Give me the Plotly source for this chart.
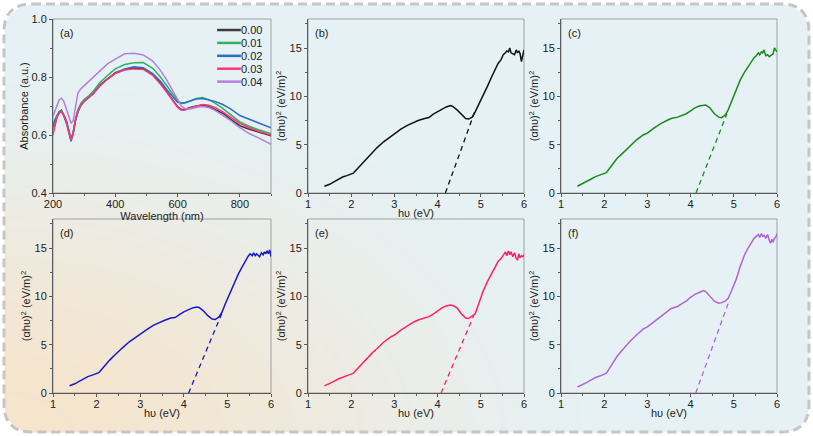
import base64, struct, zlib
import numpy as np
import plotly.graph_objects as go
from plotly.subplots import make_subplots

# ---------------- data ----------------
wavelength = [200, 205, 212, 220, 227, 235, 243, 250, 258, 265, 272, 280, 290, 300, 315, 330, 350, 375, 400, 430,
              460, 490, 520, 545, 565, 585, 600, 612, 625, 640, 660, 680, 700, 720, 745, 770, 800, 830, 860, 900]
abs_000 = [0.64, 0.63, 0.66, 0.68, 0.686, 0.67, 0.65, 0.62, 0.583, 0.61, 0.65, 0.68, 0.705, 0.718, 0.73, 0.745, 0.772, 0.795, 0.815, 0.826,
           0.831, 0.83, 0.808, 0.78, 0.752, 0.72, 0.698, 0.688, 0.689, 0.695, 0.70, 0.703, 0.698, 0.689, 0.675, 0.655, 0.632, 0.62, 0.61, 0.597]
abs_001 = [0.62, 0.64, 0.665, 0.68, 0.684, 0.668, 0.645, 0.615, 0.58, 0.61, 0.655, 0.688, 0.71, 0.722, 0.735, 0.752, 0.78, 0.805, 0.828, 0.843,
           0.849, 0.85, 0.83, 0.80, 0.77, 0.74, 0.718, 0.709, 0.71, 0.717, 0.726, 0.729, 0.722, 0.71, 0.692, 0.67, 0.645, 0.63, 0.618, 0.605]
abs_002 = [0.63, 0.65, 0.665, 0.678, 0.68, 0.665, 0.64, 0.61, 0.578, 0.605, 0.648, 0.68, 0.703, 0.715, 0.728, 0.742, 0.768, 0.793, 0.813, 0.828,
           0.835, 0.832, 0.812, 0.785, 0.757, 0.73, 0.713, 0.71, 0.712, 0.717, 0.724, 0.726, 0.722, 0.716, 0.705, 0.69, 0.667, 0.655, 0.642, 0.625]
abs_003 = [0.60, 0.625, 0.66, 0.675, 0.682, 0.668, 0.645, 0.615, 0.583, 0.61, 0.652, 0.683, 0.705, 0.717, 0.73, 0.745, 0.77, 0.793, 0.812, 0.824,
           0.828, 0.826, 0.806, 0.776, 0.748, 0.715, 0.695, 0.685, 0.686, 0.693, 0.70, 0.705, 0.703, 0.695, 0.68, 0.662, 0.64, 0.625, 0.613, 0.60]
abs_004 = [0.665, 0.68, 0.70, 0.722, 0.727, 0.715, 0.69, 0.665, 0.64, 0.65, 0.70, 0.745, 0.76, 0.77, 0.785, 0.80, 0.82, 0.845, 0.862, 0.88,
           0.882, 0.876, 0.855, 0.823, 0.79, 0.75, 0.72, 0.70, 0.69, 0.69, 0.695, 0.698, 0.695, 0.685, 0.668, 0.65, 0.625, 0.605, 0.59, 0.568]
doping_labels = ["0.00", "0.01", "0.02", "0.03", "0.04"]
absorbance = [abs_000, abs_001, abs_002, abs_003, abs_004]

hv = [1.38, 1.5, 1.6, 1.7, 1.8, 1.9, 2.0, 2.05, 2.1, 2.2, 2.3, 2.4, 2.5, 2.6, 2.75, 2.9, 3.0, 3.15, 3.3, 3.45,
      3.55, 3.7, 3.8, 3.9, 4.0, 4.1, 4.2, 4.3, 4.35, 4.45, 4.55, 4.65, 4.72, 4.8, 4.87, 4.95, 5.05, 5.15, 5.25, 5.32,
      5.4, 5.47, 5.52, 5.57, 5.6, 5.64, 5.67, 5.7, 5.74, 5.78, 5.82, 5.85, 5.88, 5.91, 5.94, 5.97, 6.0]
tauc_b = [0.7, 0.9, 1.15, 1.4, 1.65, 1.8, 1.95, 2.05, 2.3, 2.8, 3.3, 3.8, 4.3, 4.7, 5.3, 5.8, 6.1, 6.6, 7.0, 7.35,
          7.5, 7.7, 7.8, 8.15, 8.4, 8.7, 8.9, 9.05, 8.95, 8.6, 8.1, 7.7, 7.65, 7.85, 8.4, 9.1, 10.0, 11.0, 12.0, 12.7,
          13.4, 13.8, 14.3, 14.5, 14.7, 14.6, 15.0, 14.5, 14.4, 14.3, 14.8, 14.5, 14.7, 14.4, 13.6, 14.1, 14.8]
tauc_c = [0.7, 0.95, 1.2, 1.45, 1.7, 1.85, 2.0, 2.1, 2.4, 3.0, 3.6, 4.0, 4.45, 4.9, 5.5, 6.0, 6.2, 6.7, 7.15, 7.5,
          7.7, 7.85, 8.0, 8.2, 8.5, 8.8, 9.0, 9.1, 9.1, 8.8, 8.2, 7.85, 7.8, 8.05, 8.6, 9.5, 10.7, 11.7, 12.5, 13.0,
          13.6, 14.0, 14.2, 14.5, 14.3, 14.6, 14.5, 14.8, 14.2, 14.3, 14.1, 14.2, 14.3, 14.4, 15.0, 14.8, 14.6]
tauc_d = [0.75, 0.95, 1.2, 1.45, 1.7, 1.85, 2.0, 2.1, 2.35, 2.9, 3.4, 3.85, 4.3, 4.7, 5.3, 5.8, 6.05, 6.55, 7.0, 7.35,
          7.5, 7.75, 7.8, 8.1, 8.4, 8.6, 8.8, 8.9, 8.85, 8.5, 8.0, 7.65, 7.6, 7.85, 8.3, 9.2, 10.3, 11.3, 12.3, 12.9,
          13.6, 14.1, 14.4, 14.2, 14.5, 14.2, 14.4, 14.3, 14.1, 14.5, 14.3, 14.6, 14.4, 14.7, 14.4, 14.8, 14.1]
tauc_e = [0.73, 0.95, 1.2, 1.45, 1.65, 1.8, 1.95, 2.05, 2.3, 2.8, 3.3, 3.7, 4.2, 4.6, 5.25, 5.75, 6.0, 6.5, 6.95, 7.35,
          7.55, 7.75, 7.9, 8.15, 8.5, 8.8, 9.0, 9.1, 9.05, 8.8, 8.2, 7.75, 7.7, 7.95, 8.2, 9.2, 10.5, 11.5, 12.4, 13.0,
          13.6, 13.9, 14.3, 14.6, 14.2, 14.7, 14.3, 14.6, 14.1, 14.5, 13.9, 13.8, 14.4, 14.0, 14.2, 14.1, 14.3]
tauc_f = [0.62, 0.85, 1.1, 1.35, 1.6, 1.75, 1.9, 2.05, 2.4, 3.1, 3.8, 4.35, 4.9, 5.35, 6.0, 6.6, 6.85, 7.4, 7.9, 8.4,
          8.75, 8.95, 9.25, 9.5, 9.9, 10.2, 10.4, 10.6, 10.5, 10.0, 9.5, 9.3, 9.35, 9.5, 9.8, 10.6, 11.7, 13.1, 14.3, 14.9,
          15.5, 16.0, 16.2, 16.4, 16.1, 16.5, 16.2, 16.3, 16.0, 16.4, 15.8, 15.5, 15.9, 15.6, 16.0, 16.1, 16.5]
tauc_series = [tauc_b, tauc_c, tauc_d, tauc_e, tauc_f]
# linear extrapolation (band gap fits): [x_start, x_end], [y_start, y_end]
fit_x = [[4.18, 4.86], [4.125, 4.84], [4.11, 4.87], [4.08, 4.84], [4.12, 4.88]]
fit_y = [[0, 8.4], [0, 8.2], [0, 8.2], [0, 8.05], [0, 9.4]]
panel_letters = ["(a)", "(b)", "(c)", "(d)", "(e)", "(f)"]

for s in absorbance:
    assert len(s) == len(wavelength)
for s in tauc_series:
    assert len(s) == len(hv)

# ---------------- styles ----------------
FONT = "Liberation Sans, Arial, sans-serif"
FS = 11
abs_colors = ["#3c3c3c", "#34b060", "#2a6fc0", "#ff3578", "#b57ee0"]
tauc_colors = ["#111111", "#178c17", "#1818c8", "#ff1f6e", "#b064d8"]
W, H = 813, 436

def px_x(x):
    return x / W

def px_y(y):
    return 1 - y / H

col_dom = [[px_x(53), px_x(271)], [px_x(308), px_x(524)], [px_x(561), px_x(777)]]
row_dom = [[px_y(193), px_y(19)], [px_y(393), px_y(219)]]

# ---------------- background gradient image ----------------
yy, xx = np.mgrid[0:H, 0:W].astype(float)
t = np.sqrt((xx / 660.0) ** 2 + ((H - yy) / 400.0) ** 2)
t = np.clip(t, 0, 1)
t = t * t * (3 - 2 * t)
peach = np.array([246, 228, 204], float)
blue = np.array([229, 241, 244], float)
rgb = peach[None, None, :] * (1 - t)[..., None] + blue[None, None, :] * t[..., None]
bx0, by0, bx1, by1, br = 4, 4, 809, 432, 28
dx = np.maximum(np.maximum(bx0 + br - xx, 0), xx - (bx1 - br))
dy = np.maximum(np.maximum(by0 + br - yy, 0), yy - (by1 - br))
d = np.sqrt(np.maximum(dx, 0) ** 2 + np.maximum(dy, 0) ** 2) - br
alpha = np.clip(0.5 - d, 0, 1) * 255
img = np.dstack([rgb, alpha]).round().astype(np.uint8)

def png_bytes(arr):
    h, w, _ = arr.shape
    raw = b"".join(b"\x00" + arr[i].tobytes() for i in range(h))
    def chunk(tag, data):
        c = struct.pack(">I", len(data)) + tag + data
        return c + struct.pack(">I", zlib.crc32(tag + data) & 0xFFFFFFFF)
    return (b"\x89PNG\r\n\x1a\n" + chunk(b"IHDR", struct.pack(">IIBBBBB", w, h, 8, 6, 0, 0, 0))
            + chunk(b"IDAT", zlib.compress(raw, 9)) + chunk(b"IEND", b""))

bg_src = "data:image/png;base64," + base64.b64encode(png_bytes(img)).decode()

# ---------------- figure ----------------
fig = make_subplots(rows=2, cols=3)

for i, (lab, ys) in enumerate(zip(doping_labels, absorbance)):
    fig.add_trace(go.Scatter(x=wavelength, y=ys, mode="lines", name=lab,
                             line=dict(color=abs_colors[i], width=1.5), showlegend=False), row=1, col=1)

positions = [(1, 2), (1, 3), (2, 1), (2, 2), (2, 3)]
for i, ((r, c), ys) in enumerate(zip(positions, tauc_series)):
    fig.add_trace(go.Scatter(x=hv, y=ys, mode="lines", line=dict(color=tauc_colors[i], width=1.5),
                             showlegend=False), row=r, col=c)
    fig.add_trace(go.Scatter(x=fit_x[i], y=fit_y[i], mode="lines",
                             line=dict(color=tauc_colors[i], width=1.3, dash="5px,4px"),
                             showlegend=False), row=r, col=c)

tfont = dict(size=FS, color="#222", family=FONT)
axis_common = dict(showline=True, linecolor="#5a5a5a", linewidth=1, mirror=False, ticks="outside",
                   ticklen=3, tickcolor="#5a5a5a", tickfont=tfont, automargin=False,
                   showgrid=False, zeroline=False)

all_pos = [(1, 1)] + positions
for idx, (r, c) in enumerate(all_pos):
    n = (r - 1) * 3 + c
    xa = "xaxis" if n == 1 else f"xaxis{n}"
    ya = "yaxis" if n == 1 else f"yaxis{n}"
    if n == 1:
        xcfg = dict(range=[200, 900], tickvals=[200, 400, 600, 800], ticklabelstandoff=-2,
                    minor=dict(ticks="outside", ticklen=2, tickcolor="#5a5a5a", dtick=100, tick0=200),
                    title=dict(text="Wavelength (nm)", font=tfont, standoff=0))
        ycfg = dict(range=[0.4, 1.0], tickvals=[0.4, 0.6, 0.8, 1.0], tickformat=".1f",
                    minor=dict(ticks="outside", ticklen=2, tickcolor="#5a5a5a", dtick=0.1, tick0=0.4),
                    title=dict(text="Absorbance (a.u.)", font=tfont, standoff=0))
    else:
        xtitle = "" if n == 3 else "hυ (eV)"
        xcfg = dict(range=[1, 6], tickvals=[1, 2, 3, 4, 5, 6], ticklabelstandoff=-2,
                    minor=dict(ticks="outside", ticklen=2, tickcolor="#5a5a5a", dtick=0.5, tick0=1),
                    title=dict(text=xtitle, font=tfont, standoff=0))
        ycfg = dict(range=[0, 18], tickvals=[0, 5, 10, 15],
                    minor=dict(ticks="outside", ticklen=2, tickcolor="#5a5a5a", dtick=2.5, tick0=0),
                    title=dict(text="(αhυ)<sup>2</sup> (eV/m)<sup>2</sup>", font=tfont, standoff=1))
    fig.layout[xa].update(domain=col_dom[c - 1], **axis_common, **xcfg)
    fig.layout[ya].update(domain=row_dom[r - 1], **axis_common, **ycfg)
    xref = "x" if n == 1 else f"x{n}"
    yref = "y" if n == 1 else f"y{n}"
    # light frame (top/right)
    fig.add_shape(type="rect", xref=f"{xref} domain", yref=f"{yref} domain", x0=0, x1=1, y0=0, y1=1,
                  line=dict(color="#a0a0a0", width=1), layer="below")
    fig.add_annotation(text=panel_letters[idx], xref=f"{xref} domain", yref=f"{yref} domain",
                       x=0.025, y=0.965, xanchor="left", yanchor="top", showarrow=False, font=tfont)

# legend for panel (a), drawn in its data coordinates
leg_y0, leg_dy = 0.962, 0.0445
for i, lab in enumerate(doping_labels):
    yv = leg_y0 - i * leg_dy
    fig.add_shape(type="line", xref="x", yref="y", x0=727, x1=803, y0=yv, y1=yv,
                  line=dict(color=abs_colors[i], width=2.5), layer="above")
    fig.add_annotation(text=lab, xref="x", yref="y", x=805, y=yv, xanchor="left", yanchor="middle",
                       showarrow=False, font=tfont, xshift=-2)

# outer dashed rounded border
r_ = br
pts = [
    f"M {px_x(bx0 + r_)},{px_y(by0)}",
    f"L {px_x(bx1 - r_)},{px_y(by0)}",
    f"Q {px_x(bx1)},{px_y(by0)} {px_x(bx1)},{px_y(by0 + r_)}",
    f"L {px_x(bx1)},{px_y(by1 - r_)}",
    f"Q {px_x(bx1)},{px_y(by1)} {px_x(bx1 - r_)},{px_y(by1)}",
    f"L {px_x(bx0 + r_)},{px_y(by1)}",
    f"Q {px_x(bx0)},{px_y(by1)} {px_x(bx0)},{px_y(by1 - r_)}",
    f"L {px_x(bx0)},{px_y(by0 + r_)}",
    f"Q {px_x(bx0)},{px_y(by0)} {px_x(bx0 + r_)},{px_y(by0)} Z",
]
fig.add_shape(type="path", xref="paper", yref="paper", path=" ".join(pts),
              line=dict(color="#c6c6c6", width=3, dash="9px,5px"), layer="below")

fig.add_layout_image(dict(source=bg_src, xref="paper", yref="paper", x=0, y=1, sizex=1, sizey=1,
                          xanchor="left", yanchor="top", sizing="stretch", layer="below"))

fig.update_layout(width=W, height=H, autosize=False, margin=dict(l=0, r=0, t=0, b=0, autoexpand=False),
                  paper_bgcolor="white", plot_bgcolor="rgba(0,0,0,0)",
                  font=dict(family=FONT, size=FS, color="#222"), showlegend=False)

fig.write_html("out.html", config={"displayModeBar": False},
               post_script="document.body.style.margin='0';document.body.style.overflow='hidden';")
